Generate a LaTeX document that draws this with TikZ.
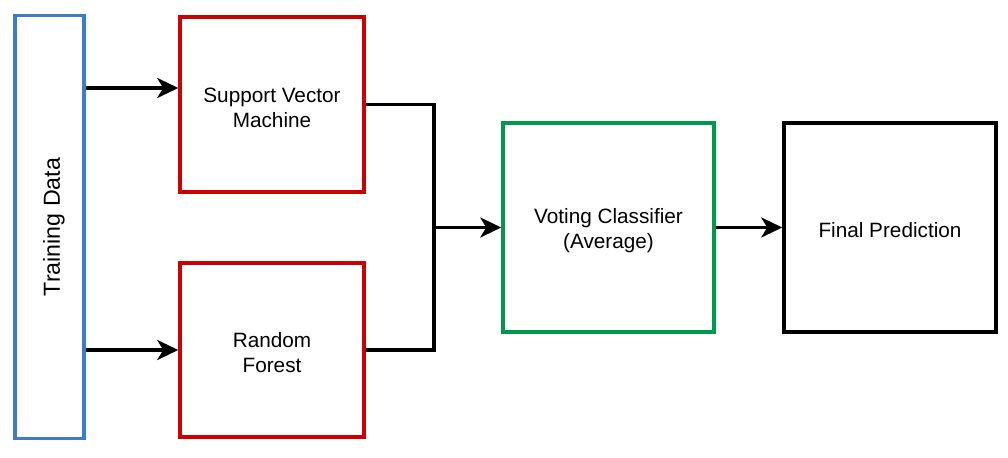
\documentclass[tikz,border=0pt]{standalone}
\usepackage{fontspec}
\setmainfont{Liberation Sans}
\usetikzlibrary{arrows.meta}

\definecolor{trainblue}{RGB}{61,125,197}
\definecolor{modelred}{RGB}{204,0,0}
\definecolor{votegreen}{RGB}{0,153,76}

\begin{document}
\begin{tikzpicture}[
    box/.style={draw, line width=2pt, align=center, inner sep=0pt, font=\fontsize{11.8}{14.2}\selectfont},
    lift/.style={execute at begin node={\rule{0pt}{#1}}},
    arr/.style={line width=2pt, -{Stealth[length=0.42cm, width=0.4cm, inset=0.12cm]}},
    link/.style={line width=2pt}
]
    \useasboundingbox (0, 0) rectangle (20.16, -9.16);

    \node[box, trainblue, minimum width=1.38cm, minimum height=8.46cm] (train) at (0.99, -4.54) {};
    \node[rotate=90, font=\fontsize{13.2}{16}\selectfont] (trainlabel) at (1.08, -4.54) {Training Data};
    \node[box, lift=0.92cm, modelred, minimum width=3.68cm, minimum height=3.5cm, text=black] (svm) at (5.44, -2.09) {Support Vector\\Machine};
    \node[box, lift=0.92cm, modelred, minimum width=3.68cm, minimum height=3.48cm, text=black] (forest) at (5.44, -7.0) {Random\\Forest};
    \node[box, lift=0.92cm, votegreen, minimum width=4.22cm, minimum height=4.18cm, text=black] (vote) at (12.17, -4.55) {Voting Classifier\\(Average)};
    \node[box, lift=0.42cm, minimum width=4.24cm, minimum height=4.18cm] (final) at (17.8, -4.55) {Final Prediction};

    \coordinate (join) at (8.68, -4.55);

    \draw[arr] ([yshift=0.33cm]svm.west -| train.east) -- ([yshift=0.33cm]svm.west);
    \draw[arr] (train.east |- forest.west) -- (forest.west);

    \draw[link] (svm.east) -| (join) |- (forest.east);
    \draw[arr] (join) -- (vote.west);
    \draw[arr] (vote.east) -- (final.west);
\end{tikzpicture}
\end{document}
